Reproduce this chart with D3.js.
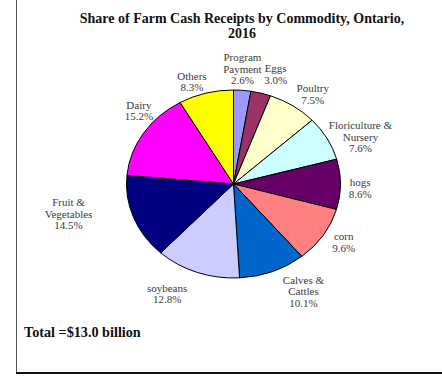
<!DOCTYPE html>
<html>
<head>
<meta charset="utf-8">
<script src="https://cdn.jsdelivr.net/npm/d3@7"></script>
<style>
  html, body { margin: 0; padding: 0; background: #fff; }
  svg { display: block; }
</style>
</head>
<body>
<svg id="chart" width="442" height="392"></svg>
<script>
// Commodity shares of Ontario farm cash receipts, 2016 (percent), clockwise from 12 o'clock
const commodities = ["Program Payment", "Eggs", "Poultry", "Floriculture & Nursery", "hogs", "corn",
                     "Calves & Cattles", "soybeans", "Fruit & Vegetables", "Dairy", "Others"];
const shares = [2.6, 3.0, 7.5, 7.6, 8.6, 9.6, 10.1, 12.8, 14.5, 15.2, 8.3];
// Label text lines (name split the way it wraps)
const labelLines = [["Program", "Payment"], ["Eggs"], ["Poultry"], ["Floriculture &", "Nursery"], ["hogs"], ["corn"],
                    ["Calves &", "Cattles"], ["soybeans"], ["Fruit &", "Vegetables"], ["Dairy"], ["Others"]];
const sliceColors = ["#9999FF", "#993366", "#FFFFCC", "#CCFFFF", "#660066", "#FF8080",
                     "#0066CC", "#CCCCFF", "#000080", "#FF00FF", "#FFFF00"];
const chartTitle = ["Share of Farm Cash Receipts by Commodity, Ontario,", "2016"];
const totalNote = "Total =$13.0 billion";

// Layout
const W = 442, H = 392;
const cx = 233.5, cy = 184;
const ry = 94, rx = 107;          // pie is drawn slightly wider than tall
const aspect = rx / ry;
const labelR = ry * 1.25;
// small hand adjustments of each data label from its radial position
const labelNudge = [[-2, 2], [8, 4], [5, 8], [10, 10], [-7, 4], [-2, -6],
                    [21, -2], [-21, -1], [-40, -12], [18, -10], [-7, 11]];

const svg = d3.select("#chart");

// frame
svg.append("line").attr("x1", 16.5).attr("x2", 16.5).attr("y1", 0).attr("y2", 372)
  .attr("stroke", "#555").attr("stroke-width", 1);
svg.append("line").attr("x1", 16).attr("x2", W).attr("y1", 373).attr("y2", 373)
  .attr("stroke", "#111").attr("stroke-width", 2.2);

// title
const title = svg.append("text")
  .attr("x", 242).attr("y", 22.5)
  .attr("text-anchor", "middle")
  .attr("font-family", "'Liberation Serif', 'Times New Roman', serif")
  .attr("font-weight", "bold").attr("font-size", 14).attr("fill", "#111");
title.selectAll("tspan").data(chartTitle).join("tspan")
  .attr("x", 242).attr("dy", (d, i) => i === 0 ? 0 : 15).text(d => d);

// pie
const data = commodities.map((c, i) => ({ name: c, value: shares[i], color: sliceColors[i], lines: labelLines[i], nudge: labelNudge[i] }));
const pie = d3.pie().value(d => d.value).sort(null);
const arcs = pie(data);
const arc = d3.arc().innerRadius(0).outerRadius(ry);
const labelArc = d3.arc().innerRadius(labelR).outerRadius(labelR);

const g = svg.append("g").attr("transform", `translate(${cx},${cy}) scale(${aspect},1)`);
g.selectAll("path").data(arcs).join("path")
  .attr("d", arc)
  .attr("fill", d => d.data.color)
  .attr("stroke", "#000")
  .attr("stroke-width", 1)
  .attr("vector-effect", "non-scaling-stroke");

// data labels
const fs = 11, lh = 11.5;
const labels = svg.append("g")
  .attr("font-family", "'Liberation Serif', 'Times New Roman', serif")
  .attr("font-size", fs).attr("fill", "#3a3a3a").attr("text-anchor", "middle");
arcs.forEach(d => {
  const [px, py] = labelArc.centroid(d);
  const x = cx + px * aspect + d.data.nudge[0];
  const y = cy + py + d.data.nudge[1];
  const lines = d.data.lines.concat([d.data.value.toFixed(1) + "%"]);
  const t = labels.append("text").attr("x", x).attr("y", y);
  lines.forEach((ln, i) => {
    t.append("tspan").attr("x", x)
      .attr("y", y + (i - (lines.length - 1) / 2) * lh + 0.35 * fs)
      .text(ln);
  });
});

// total note
svg.append("text").attr("x", 24).attr("y", 337)
  .attr("font-family", "'Liberation Serif', 'Times New Roman', serif")
  .attr("font-weight", "bold").attr("font-size", 14.2).attr("fill", "#111")
  .text(totalNote);
</script>
</body>
</html>
